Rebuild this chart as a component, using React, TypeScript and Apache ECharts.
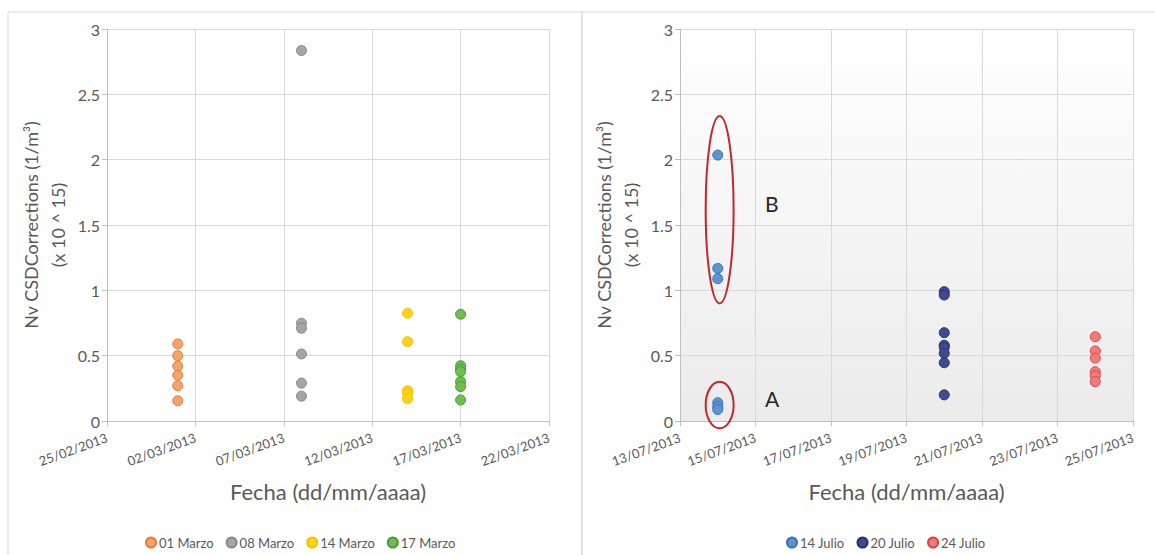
import React, { useEffect, useRef } from "react";
import * as echarts from "echarts";

// Measurement dates (dd/mm/yyyy) and Nv values (x 10^15 1/m³)
const marchOrigin = "25/02/2013";
const julyOrigin = "13/07/2013";

const marchSeriesNames = ["01 Marzo", "08 Marzo", "14 Marzo", "17 Marzo"];
const marchDates = ["01/03/2013", "08/03/2013", "14/03/2013", "17/03/2013"];
const marzo01 = [0.59, 0.5, 0.42, 0.35, 0.27, 0.155];
const marzo08 = [2.835, 0.748, 0.71, 0.513, 0.29, 0.19];
const marzo14 = [0.825, 0.607, 0.232, 0.212, 0.172];
const marzo17 = [0.817, 0.423, 0.398, 0.378, 0.301, 0.263, 0.161];

const julySeriesNames = ["14 Julio", "20 Julio", "24 Julio"];
const julyDates = ["14/07/2013", "20/07/2013", "24/07/2013"];
const julio14 = [2.035, 1.168, 1.089, 0.14, 0.11, 0.088];
const julio20 = [0.99, 0.964, 0.676, 0.58, 0.564, 0.518, 0.446, 0.2];
const julio24 = [0.645, 0.536, 0.482, 0.377, 0.347, 0.301];

// Axis ranges (days from origin) and tick spacing
const marchSpanDays = 25;
const marchTickDays = 5;
const julySpanDays = 12;
const julyTickDays = 2;
const yMax = 3;
const yTick = 0.5;

// Groups marked on the July chart
const groupMarks = [
  { label: "B", date: "14/07/2013", shift: 0.05, center: 1.617, halfHeight: 0.717, halfWidth: 0.37, labelShift: 1.2, labelValue: 1.668 },
  { label: "A", date: "14/07/2013", shift: 0.05, center: 0.122, halfHeight: 0.178, halfWidth: 0.37, labelShift: 1.2, labelValue: 0.176 },
];

const marchColors = [
  { fill: "#F4A36B", border: "#E47F3A" },
  { fill: "#A5A5A5", border: "#8A8A8A" },
  { fill: "#FFD21A", border: "#F2C200" },
  { fill: "#6CBF4F", border: "#4E9A36" },
];
const julyColors = [
  { fill: "#5B93D3", border: "#3F72B0" },
  { fill: "#3F4B8E", border: "#283266" },
  { fill: "#F27A7A", border: "#D64545" },
];

const FONT = "Lato, 'Open Sans', sans-serif";
const TEXT = "#595959";

function parseDate(s: string): number {
  const [d, m, y] = s.split("/").map(Number);
  return Date.UTC(y, m - 1, d);
}
function daysFrom(origin: string, s: string): number {
  return Math.round((parseDate(s) - parseDate(origin)) / 86400000);
}
function dateLabel(origin: string) {
  return (v: number) => {
    const dt = new Date(parseDate(origin) + Math.round(v) * 86400000);
    const dd = String(dt.getUTCDate()).padStart(2, "0");
    const mm = String(dt.getUTCMonth() + 1).padStart(2, "0");
    return `${dd}/${mm}/${dt.getUTCFullYear()}`;
  };
}

function xAxisFor(gridIndex: number, origin: string, span: number, tick: number) {
  return {
    type: "value",
    gridIndex,
    min: 0,
    max: span,
    interval: tick,
    name: "Fecha (dd/mm/aaaa)",
    nameLocation: "middle",
    nameGap: 59,
    nameTextStyle: { fontSize: 22, color: TEXT, fontFamily: FONT },
    axisLine: { show: true, lineStyle: { color: "#BFBFBF" } },
    axisTick: { show: true, length: 5, lineStyle: { color: "#BFBFBF" } },
    axisLabel: {
      rotate: 20,
      margin: 16,
      fontSize: 13,
      color: TEXT,
      fontFamily: FONT,
      formatter: dateLabel(origin),
    },
    splitLine: { show: true, lineStyle: { color: "#D9D9D9" } },
  };
}

function yAxisFor(gridIndex: number) {
  return {
    type: "value",
    gridIndex,
    min: 0,
    max: yMax,
    interval: yTick,
    name: "Nv CSDCorrections (1/m³)\n(x 10 ^ 15)",
    nameLocation: "middle",
    nameRotate: 90,
    nameGap: 36,
    nameTextStyle: { fontSize: 18, color: TEXT, fontFamily: FONT, lineHeight: 27 },
    axisLine: { show: true, lineStyle: { color: "#BFBFBF" } },
    axisTick: { show: true, length: 5, lineStyle: { color: "#BFBFBF" } },
    axisLabel: { fontSize: 16, color: TEXT, fontFamily: FONT, margin: 7 },
    splitLine: { show: true, lineStyle: { color: "#D9D9D9" } },
  };
}

function scatter(name: string, axis: number, x: number, values: number[], c: { fill: string; border: string }) {
  return {
    type: "scatter",
    name,
    xAxisIndex: axis,
    yAxisIndex: axis,
    symbol: "circle",
    symbolSize: 10,
    itemStyle: { color: c.fill, borderColor: c.border, borderWidth: 1, opacity: 1 },
    data: values.map((v) => [x, v]),
  };
}

export default function App() {
  const ref = useRef<HTMLDivElement>(null);

  useEffect(() => {
    if (!ref.current) return;
    const chart = echarts.init(ref.current, undefined, { renderer: "svg" });

    const marchValues = [marzo01, marzo08, marzo14, marzo17];
    const julyValues = [julio14, julio20, julio24];

    const series = [
      ...marchSeriesNames.map((n, i) =>
        scatter(n, 0, daysFrom(marchOrigin, marchDates[i]), marchValues[i], marchColors[i])
      ),
      ...julySeriesNames.map((n, i) =>
        scatter(n, 1, daysFrom(julyOrigin, julyDates[i]), julyValues[i], julyColors[i])
      ),
    ];

    const legendBase = {
      orient: "horizontal",
      top: 531,
      icon: "circle",
      itemWidth: 10,
      itemHeight: 10,
      itemGap: 12,
      textStyle: { fontSize: 13, color: TEXT, fontFamily: FONT, padding: [0, 0, 0, -2] },
      selectedMode: false,
    };

    chart.setOption({
      animation: false,
      backgroundColor: "#FFFFFF",
      grid: [
        { left: 107, top: 29, width: 442, height: 392, show: false },
        {
          left: 680,
          top: 29,
          width: 453,
          height: 392,
          show: true,
          borderWidth: 0,
          backgroundColor: new echarts.graphic.LinearGradient(0, 0, 0, 1, [
            { offset: 0, color: "#FFFFFF" },
            { offset: 1, color: "#EBEBEB" },
          ]),
        },
      ],
      xAxis: [
        xAxisFor(0, marchOrigin, marchSpanDays, marchTickDays),
        xAxisFor(1, julyOrigin, julySpanDays, julyTickDays),
      ],
      yAxis: [yAxisFor(0), yAxisFor(1)],
      legend: [
        { ...legendBase, left: 140, data: marchSeriesNames },
        { ...legendBase, left: 781, data: julySeriesNames },
      ],
      series,
    });

    // Panel frames and the group outlines on the July chart
    const graphics: any[] = [
      { type: "rect", shape: { x: 8, y: 12, width: 574, height: 560 }, style: { fill: "none", stroke: "#D9D9D9", lineWidth: 1 }, silent: true },
      { type: "rect", shape: { x: 582, y: 12, width: 600, height: 560 }, style: { fill: "none", stroke: "#D9D9D9", lineWidth: 1 }, silent: true },
    ];
    groupMarks.forEach((g) => {
      const x0 = daysFrom(julyOrigin, g.date) + g.shift;
      const c = chart.convertToPixel({ xAxisIndex: 1, yAxisIndex: 1 }, [x0, g.center]) as number[];
      const top = chart.convertToPixel({ xAxisIndex: 1, yAxisIndex: 1 }, [x0 + g.halfWidth, g.center + g.halfHeight]) as number[];
      const lab = chart.convertToPixel({ xAxisIndex: 1, yAxisIndex: 1 }, [x0 + g.labelShift, g.labelValue]) as number[];
      graphics.push({
        type: "ellipse",
        shape: { cx: c[0], cy: c[1], rx: Math.abs(top[0] - c[0]), ry: Math.abs(c[1] - top[1]) },
        style: { fill: "none", stroke: "#C1272D", lineWidth: 2 },
        silent: true,
        z: 10,
      });
      graphics.push({
        type: "text",
        x: lab[0],
        y: lab[1],
        style: { text: g.label, fontSize: 21, fontFamily: FONT, fill: "#262626", align: "left", verticalAlign: "middle" },
        silent: true,
        z: 10,
      });
    });
    chart.setOption({ graphic: graphics });

    return () => chart.dispose();
  }, []);

  return (
    <div
      ref={ref}
      style={{ position: "fixed", left: 0, top: 0, width: 1155, height: 555 }}
    />
  );
}
